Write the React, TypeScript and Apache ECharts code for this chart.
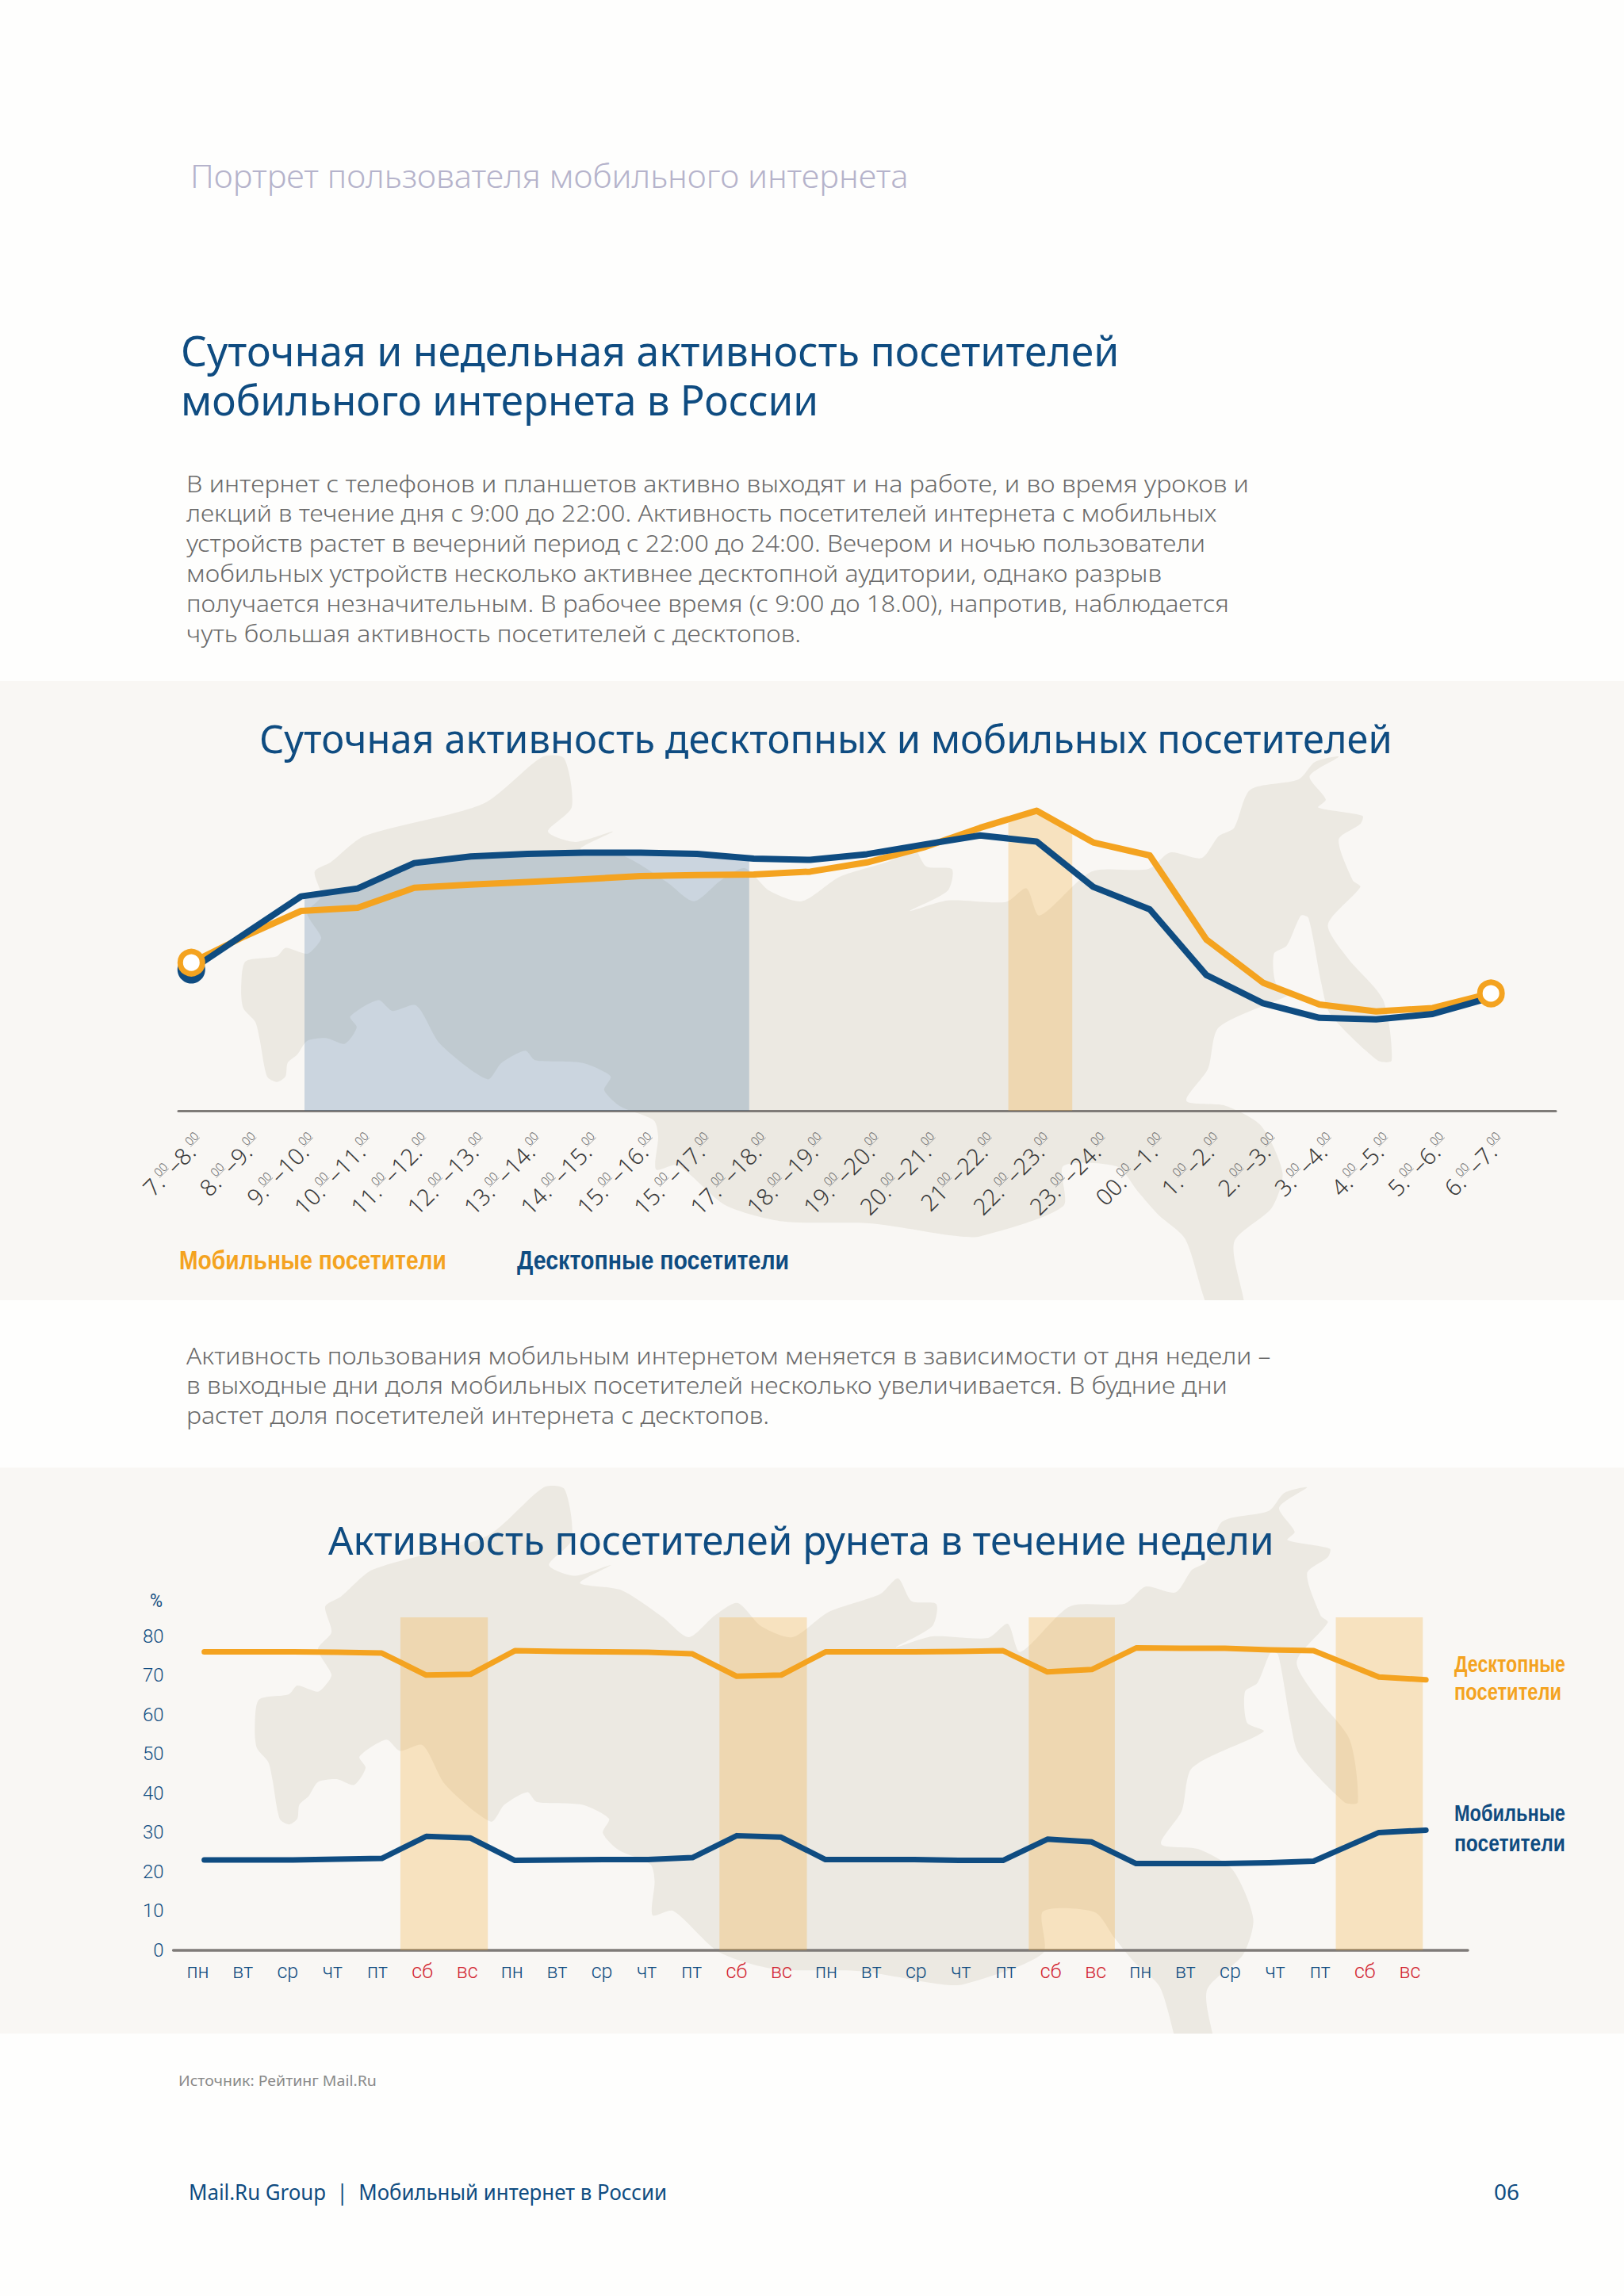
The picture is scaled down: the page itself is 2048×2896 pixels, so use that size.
import React, { useEffect, useRef } from "react";
import * as echarts from "echarts";

const BLUE = "#0f4c81";
const ORANGE = "#f4a320";
const RED = "#d2232e";
const PAGE = "#fefefd";
const PANEL = "#f9f7f4";
const MAP = "#ece9e2";
const AXIS = "#7f7b78";
const FONT = "'Noto Sans'";
const NARROW = "'Liberation Sans'";
const TICK = "Roboto";

// ---- daily chart ----
const hourStarts = ["7", "8", "9", "10", "11", "12", "13", "14", "15", "15", "17", "18", "19", "20", "21 ", "22", "23", "00", "1", "2", "3", "4", "5", "6"];
const hourEnds = ["8", "9", "10", "11", "12", "13", "14", "15", "16", "17", "18", "19", "20", "21", "22", "23", "24", "1", "2", "3", "4", "5", "6", "7"];
const hourX = [0.06, 1, 2, 3, 4, 5, 6, 7, 8, 9, 10, 11, 12, 13, 14, 15, 16, 17, 18, 19, 20, 21, 22, 23.03];
const hourMobile = [46.7, 55, 63, 64, 70.3, 71.3, 72.1, 73, 74, 74.3, 74.5, 75.4, 78.3, 83, 89.2, 94.6, 84.6, 80.5, 54, 40.4, 33.5, 31.3, 32.4, 37];
const hourDesktop = [44.5, 55.7, 67.6, 70.1, 78.1, 80.2, 81, 81.4, 81.4, 81, 79.5, 79.1, 80.9, 83.9, 86.8, 84.9, 70.6, 63.5, 42.8, 33.9, 29.3, 28.8, 30.5, 35.7];
const workBand = [2.06, 9.92];
const eveningBand = [14.5, 15.63];
const hourLabelShift = 0.22;

// ---- weekly chart ----
const weekDays = ["пн", "вт", "ср", "чт", "пт", "сб", "вс", "пн", "вт", "ср", "чт", "пт", "сб", "вс", "пн", "вт", "ср", "чт", "пт", "сб", "вс", "пн", "вт", "ср", "чт", "пт", "сб", "вс"];
const weekX = [0, 1, 2, 3, 4, 5, 6, 7, 8, 9, 10, 11, 12, 13, 14, 15, 16, 17, 18, 19, 20, 21, 22, 23, 24, 25, 26.47, 27.53];
const weekDesktop = [76, 76, 76, 75.9, 75.7, 70.1, 70.3, 76.3, 76.1, 76, 75.9, 75.5, 69.8, 70.1, 76, 76, 76, 76.1, 76.3, 70.9, 71.5, 77, 76.9, 76.9, 76.5, 76.3, 69.6, 68.9];
const weekMobile = [23, 23, 23, 23.2, 23.4, 29, 28.6, 22.9, 23, 23.1, 23.1, 23.6, 29.2, 28.8, 23.1, 23.1, 23.1, 22.9, 22.9, 28.3, 27.6, 22.1, 22.1, 22.1, 22.3, 22.7, 30, 30.6];
const weekendBands = [[4.42, 6.39], [11.61, 13.58], [18.58, 20.52], [25.5, 27.46]];
const percentTicks = [0, 10, 20, 30, 40, 50, 60, 70, 80];
const weekLabelStep = 1.0115;

// ---- texts ----
const introLines = [
  "В интернет с телефонов и планшетов активно выходят и на работе, и во время уроков и",
  "лекций в течение дня с 9:00 до 22:00. Активность посетителей интернета с мобильных",
  "устройств растет в вечерний период с 22:00 до 24:00. Вечером и ночью пользователи",
  "мобильных устройств несколько активнее десктопной аудитории, однако разрыв",
  "получается незначительным. В рабочее время (с 9:00 до 18.00), напротив, наблюдается",
  "чуть большая активность посетителей с десктопов.",
];
const introWidths = [1340, 1300, 1285, 1231, 1316, 775];
const midLines = [
  "Активность пользования мобильным интернетом меняется в зависимости от дня недели –",
  "в выходные дни доля мобильных посетителей несколько увеличивается. В будние дни",
  "растет доля посетителей интернета с десктопов.",
];
const midWidths = [1368, 1313, 735];

// silhouette of the map behind the charts, traced in panel-local units
const mapOutline: number[][] = [
  [1262, 55], [1235, 111], [1250, 178], [1243, 201], [1284, 225], [1282, 248], [1262, 293], [1275, 410], [1282, 429], [1252, 537], [1270, 632], [1303, 753], [1311, 927], [1298, 927], [1254, 793], [1246, 707], [1234, 518], [1227, 511], [1214, 597], [1202, 621], [1204, 707], [1220, 731], [1151, 832], [1141, 951], [1121, 1043], [1157, 1057], [1190, 1114], [1210, 1250], [1200, 1350], [1165, 1450], [1175, 1660], [1145, 1660], [1120, 1440], [1095, 1370], [1076, 1303], [1057, 1232], [1007, 1230], [1007, 1345], [930, 1432], [905, 1430], [830, 1395], [747, 1389], [694, 1342], [650, 1228], [630, 1240], [632, 1146], [628, 1099], [597, 1059], [582, 1012], [588, 973], [562, 934], [518, 926], [509, 899], [487, 934], [474, 981], [430, 879], [408, 769], [386, 785], [373, 754], [347, 801], [353, 832], [342, 879], [325, 863], [307, 871], [298, 910], [289, 934], [287, 973], [279, 989], [270, 973], [263, 864], [259, 816], [248, 777], [246, 722], [250, 643], [279, 628], [287, 604], [307, 621], [316, 597], [320, 573], [307, 503], [320, 456], [314, 385], [329, 358], [360, 283], [470, 190], [525, 55], [545, 60], [552, 200], [530, 270], [555, 300], [590, 270], [560, 320], [600, 340], [640, 415], [665, 470], [690, 410], [712, 375], [735, 440], [765, 470], [800, 400], [850, 350], [867, 307], [880, 370], [904, 378], [900, 440], [865, 498], [900, 468], [954, 472], [973, 433], [985, 511], [1033, 385], [1086, 377], [1106, 330], [1135, 346], [1151, 283], [1165, 260], [1180, 150], [1225, 120], [1240, 70],
];

let measureCtx: CanvasRenderingContext2D | null = null;
function fitScale(text: string, family: string, size: number, weight: string | number, target?: number) {
  if (!target) return 1;
  if (!measureCtx) measureCtx = document.createElement("canvas").getContext("2d");
  measureCtx!.font = `${weight} ${size}px ${family}`;
  const w = measureCtx!.measureText(text).width;
  return w > 0 ? target / w : 1;
}

function txt(text: string, x: number, y: number, size: number, fill: string, target?: number, weight: string | number = "normal", family = FONT) {
  return {
    type: "text",
    x,
    y,
    z: 20,
    silent: true,
    scaleX: fitScale(text, family, size, weight, target),
    style: { text, fontSize: size, fontFamily: family, fontWeight: weight, fill, align: "left", verticalAlign: "middle" },
  };
}

// area under a series between two fractional positions
function bandUnder(xs: number[], ys: number[], from: number, to: number) {
  const at = (p: number) => {
    for (let i = 0; i < xs.length - 1; i++) {
      if (p >= xs[i] && p <= xs[i + 1]) return ys[i] + ((ys[i + 1] - ys[i]) * (p - xs[i])) / (xs[i + 1] - xs[i]);
    }
    return 0;
  };
  const out: number[][] = [[from, at(from)]];
  xs.forEach((x, i) => {
    if (x > from && x < to) out.push([x, ys[i]]);
  });
  out.push([to, at(to)]);
  return out;
}

const UNDER =
  "data:image/svg+xml,%3Csvg xmlns='http://www.w3.org/2000/svg' width='40' height='32' preserveAspectRatio='none'%3E%3Crect y='30' width='40' height='2' fill='%23a9a9a9'/%3E%3C/svg%3E";

function buildOption() {
  const mapPts = mapOutline.map(([a, b]) => [a / 0.7656, 1851 + b / 2.196]);
  const mapPts1 = mapPts.map(([a, b]) => [1.043 * a - 31, 0.965 * b - 856]);
  const elements: any[] = [
    { type: "rect", z: -9, silent: true, shape: { x: 0, y: 0, width: 2048, height: 2896 }, style: { fill: PAGE } },
    { type: "rect", z: -8, silent: true, shape: { x: 0, y: 859, width: 2048, height: 781 }, style: { fill: PANEL } },
    { type: "polygon", z: -7, silent: true, shape: { points: mapPts1, smooth: 0.25 }, style: { fill: MAP } },
    { type: "rect", z: -6, silent: true, shape: { x: 0, y: 1640, width: 2048, height: 211 }, style: { fill: PAGE } },
    { type: "rect", z: -5, silent: true, shape: { x: 0, y: 1851, width: 2048, height: 714 }, style: { fill: PANEL } },
    { type: "polygon", z: -4, silent: true, shape: { points: mapPts, smooth: 0.25 }, style: { fill: MAP } },
    { type: "rect", z: -3, silent: true, shape: { x: 0, y: 2565, width: 2048, height: 331 }, style: { fill: PAGE } },
    txt("Портрет пользователя мобильного интернета", 240, 221, 40, "#b5b3cb", 906, 300),
    txt("Суточная и недельная активность посетителей", 228, 442, 52, BLUE, 1184),
    txt("мобильного интернета в России", 228, 504, 52, BLUE, 804),
    txt("Суточная активность десктопных и мобильных посетителей", 327, 930, 50, BLUE, 1429),
    txt("Активность посетителей рунета в течение недели", 414, 1942, 50, BLUE, 1193),
    txt("Мобильные посетители", 226, 1590, 33, ORANGE, 337, "bold", NARROW),
    txt("Десктопные посетители", 652, 1590, 33, BLUE, 343, "bold", NARROW),
    txt("Десктопные", 1834, 2099, 29, ORANGE, 140, "bold", NARROW),
    txt("посетители", 1834, 2134, 29, ORANGE, 135, "bold", NARROW),
    txt("Мобильные", 1834, 2287, 29, BLUE, 140, "bold", NARROW),
    txt("посетители", 1834, 2325, 29, BLUE, 140, "bold", NARROW),
    txt("%", 189, 2019, 24, BLUE, 16, "normal", TICK),
    txt("Источник: Рейтинг Mail.Ru", 225, 2624, 19, "#8a8a8a", 250),
    txt("Mail.Ru Group  |  Мобильный интернет в России", 238, 2765, 27, BLUE, 603),
    txt("06", 1884, 2765, 27, BLUE, 32),
  ];
  introLines.forEach((l, i) => elements.push(txt(l, 235, 609 + i * 37.8, 30, "#6a6a6a", introWidths[i], 300)));
  midLines.forEach((l, i) => elements.push(txt(l, 235, 1709 + i * 37.8, 30, "#6a6a6a", midWidths[i], 300)));

  const hourTickLabel = (v: number) => {
    const i = Math.round(v - hourLabelShift);
    const sep = hourStarts[i].endsWith(" ") ? "" : ".";
    return `{n|${hourStarts[i].trim()}${sep}}{s|00}{n|–${hourEnds[i]}.}{s|00}`;
  };
  const line = (name: string, data: number[][], color: string, xAxisIndex: number, width: number, z: number) => ({
    name,
    type: "line",
    xAxisIndex,
    yAxisIndex: xAxisIndex,
    data,
    symbol: "none",
    z,
    silent: true,
    lineStyle: { color, width, cap: "round", join: "round" },
  });

  return {
    animation: false,
    graphic: { elements },
    grid: [
      { left: 225, width: 1737, top: 1001, height: 400, containLabel: false },
      { left: 218.6, width: 1632.4, top: 2039, height: 421, containLabel: false },
    ],
    xAxis: [
      {
        type: "value",
        gridIndex: 0,
        min: -12 / 71.35,
        max: 1725 / 71.35,
        splitLine: { show: false },
        axisTick: { show: false },
        axisLine: { show: true, onZero: false, lineStyle: { color: AXIS, width: 3 } },
        axisLabel: {
          customValues: hourStarts.map((_, i) => i + hourLabelShift),
          rotate: 45,
          margin: 34,
          formatter: hourTickLabel,
          rich: {
            n: { fontFamily: FONT, fontWeight: 300, fontSize: 29, lineHeight: 30, color: "#3a3a3a" },
            s: { fontFamily: FONT, fontWeight: 300, fontSize: 15, lineHeight: 17, verticalAlign: "top", color: "#666", backgroundColor: { image: UNDER } },
          },
        },
      },
      {
        type: "value",
        gridIndex: 1,
        min: -39 / 55.96,
        max: 1593.4 / 55.96,
        splitLine: { show: false },
        axisTick: { show: false },
        axisLine: { show: true, onZero: false, lineStyle: { color: AXIS, width: 3.5 } },
        axisLabel: {
          customValues: weekDays.map((_, i) => i * weekLabelStep),
          margin: 14,
          padding: [0, 16, 0, 0],
          formatter: (v: number) => {
            const d = weekDays[Math.round(v / weekLabelStep)];
            return d === "сб" || d === "вс" ? `{r|${d}}` : `{b|${d}}`;
          },
          rich: {
            r: { fontFamily: TICK, fontWeight: 300, fontSize: 25, color: RED },
            b: { fontFamily: TICK, fontWeight: 300, fontSize: 25, color: BLUE },
          },
        },
      },
    ],
    yAxis: [
      { type: "value", gridIndex: 0, min: 0, max: 100, show: false, splitLine: { show: false } },
      {
        type: "value",
        gridIndex: 1,
        min: 0,
        max: 85,
        splitLine: { show: false },
        axisTick: { show: false },
        axisLine: { show: false },
        axisLabel: { customValues: percentTicks, margin: 12, padding: [0, 0, 3, 0], fontFamily: TICK, fontWeight: 300, fontSize: 24, color: BLUE },
      },
    ],
    series: [
      {
        type: "line",
        xAxisIndex: 0,
        yAxisIndex: 0,
        data: bandUnder(hourX, hourDesktop, workBand[0], workBand[1]),
        symbol: "none",
        silent: true,
        z: 1,
        lineStyle: { width: 0 },
        areaStyle: { color: "rgba(20,80,140,0.2)", opacity: 1 },
      },
      {
        type: "line",
        xAxisIndex: 0,
        yAxisIndex: 0,
        data: bandUnder(hourX, hourMobile, eveningBand[0], eveningBand[1]),
        symbol: "none",
        silent: true,
        z: 1,
        lineStyle: { width: 0 },
        areaStyle: { color: "rgba(244,163,32,0.25)", opacity: 1 },
      },
      {
        type: "scatter",
        xAxisIndex: 0,
        yAxisIndex: 0,
        data: [[hourX[0], hourDesktop[0]]],
        symbol: "circle",
        symbolSize: 35,
        silent: true,
        z: 2,
        itemStyle: { color: BLUE, opacity: 1 },
      },
      line("Десктопные посетители", hourX.map((x, i) => [x, hourDesktop[i]]), BLUE, 0, 8, 4),
      line("Мобильные посетители", hourX.map((x, i) => [x, hourMobile[i]]), ORANGE, 0, 8, 3),
      {
        type: "scatter",
        xAxisIndex: 0,
        yAxisIndex: 0,
        data: [[hourX[0], hourMobile[0]], [hourX[23], hourMobile[23]]],
        symbol: "circle",
        symbolSize: 28,
        silent: true,
        z: 6,
        itemStyle: { color: "#ffffff", borderColor: ORANGE, borderWidth: 7, opacity: 1 },
      },
      {
        type: "line",
        xAxisIndex: 1,
        yAxisIndex: 1,
        data: [],
        silent: true,
        z: 1,
        markArea: {
          silent: true,
          itemStyle: { color: "rgba(244,163,32,0.25)" },
          data: weekendBands.map(([a, b]) => [{ xAxis: a, yAxis: 0 }, { xAxis: b, yAxis: 84.8 }]),
        },
      },
      line("Десктопные посетители", weekX.map((x, i) => [x, weekDesktop[i]]), ORANGE, 1, 7, 3),
      line("Мобильные посетители", weekX.map((x, i) => [x, weekMobile[i]]), BLUE, 1, 7, 3),
    ],
  };
}

export default function App() {
  const ref = useRef<HTMLDivElement>(null);
  useEffect(() => {
    document.body.style.margin = "0";
    const chart = echarts.init(ref.current!, undefined, { renderer: "svg" });
    chart.setOption(buildOption() as any);
    return () => chart.dispose();
  }, []);
  return <div ref={ref} style={{ width: 2048, height: 2896 }} />;
}
